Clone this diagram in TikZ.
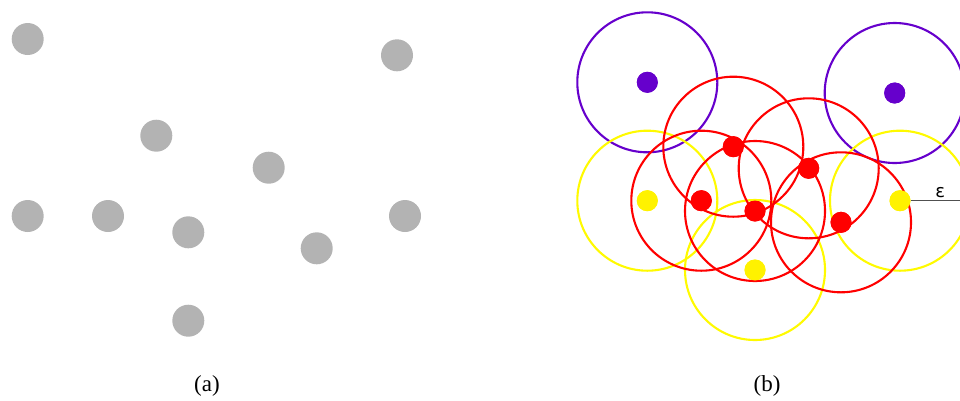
\documentclass[tikz,border=0pt]{standalone}
\usepackage{fontspec}
\setmainfont{Liberation Serif}
\newfontfamily\epsfont{DejaVu Sans}
\usepackage{xcolor}
\usetikzlibrary{positioning}
\definecolor{dotgray}{RGB}{179,179,179}
\definecolor{core-red}{RGB}{255,0,0}
\definecolor{border-yellow}{RGB}{255,250,0}
\definecolor{noise-purple}{RGB}{102,0,204}
\definecolor{eps-gray}{RGB}{80,80,80}

\begin{document}
\begin{tikzpicture}[
  x=1pt, y=-1pt,
  graydot/.style={circle, fill=dotgray, inner sep=0pt, minimum size=32pt},
  cdot/.style={circle, fill=#1, inner sep=0pt, minimum size=21pt},
  ring/.style={draw=#1, line width=2.1pt},
  caption/.style={font=\fontsize{23}{25}\selectfont},
]
  \useasboundingbox (0,0) rectangle (960,400);

  % (a) raw points
  \node[graydot] (g1) at (27.7,39) {};
  \node[graydot] (g2) at (397,55.3) {};
  \node[graydot] (g3) at (156.3,135.7) {};
  \node[graydot] (g4) at (268.7,167.7) {};
  \node[graydot] (g5) at (27.7,216) {};
  \node[graydot] (g6) at (108,216) {};
  \node[graydot] (g7) at (188.3,232.3) {};
  \node[graydot] (g8) at (316.7,248.3) {};
  \node[graydot] (g9) at (405,216) {};
  \node[graydot] (g10) at (188.3,320.7) {};

  % (b) points with their eps-neighbourhoods
  \node[cdot=noise-purple] (n1) at (647.3,82.3) {};
  \node[cdot=noise-purple] (n2) at (894.7,93) {};
  \node[cdot=yellow] (b1) at (647.3,200.7) {};
  \node[cdot=yellow] (b2) at (755,270) {};
  \node[cdot=yellow] (b3) at (900,200.7) {};
  \node[cdot=core-red] (c1) at (733.3,146.7) {};
  \node[cdot=core-red] (c2) at (808.7,168.3) {};
  \node[cdot=core-red] (c3) at (701.3,200.7) {};
  \node[cdot=core-red] (c4) at (755,211) {};
  \node[cdot=core-red] (c5) at (841,222.3) {};

  \draw[ring=noise-purple] (n1.center) circle[radius=70pt];
  \draw[ring=noise-purple] (n2.center) circle[radius=70pt];
  \draw[ring=border-yellow] (b1.center) circle[radius=70pt];
  \draw[ring=border-yellow] (b2.center) circle[radius=70pt];
  \draw[ring=border-yellow] (b3.center) circle[radius=70pt];
  \draw[ring=core-red] (c1.center) circle[radius=70pt];
  \draw[ring=core-red] (c2.center) circle[radius=70pt];
  \draw[ring=core-red] (c3.center) circle[radius=70pt];
  \draw[ring=core-red] (c4.center) circle[radius=70pt];
  \draw[ring=core-red] (c5.center) circle[radius=70pt];

  % dots again, on top of the rings
  \foreach \p/\c in {n1/noise-purple, n2/noise-purple, b1/yellow, b2/yellow, b3/yellow,
                     c1/core-red, c2/core-red, c3/core-red, c4/core-red, c5/core-red}
    \node[cdot=\c] at (\p) {};

  % radius marker
  \coordinate (epsend) at (960,200.7);
  \draw[eps-gray, line width=1.5pt] (b3.east) -- (epsend)
    node[pos=0.6, above, inner sep=2.5pt, text=black, font=\epsfont\fontsize{18}{20}\selectfont] (epslbl) {ε};

  % captions
  \node[caption] (capa) at (207,386) {(a)};
  \node[caption] (capb) at (767,386) {(b)};
\end{tikzpicture}
\end{document}
